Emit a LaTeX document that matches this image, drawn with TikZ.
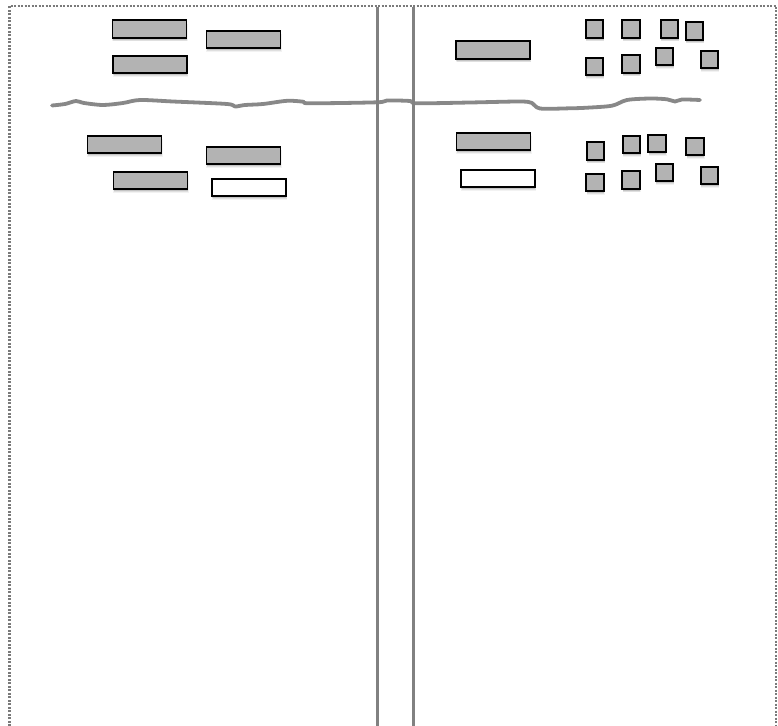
\documentclass[tikz,border=0pt]{standalone}
\usetikzlibrary{shadows}
\definecolor{boxgray}{HTML}{B3B3B3}
\definecolor{linegray}{HTML}{888888}
\definecolor{framegray}{HTML}{7A7A7A}
\tikzset{
  softshadow/.style={
    general shadow={shadow xshift=0.6pt, shadow yshift=-3.5pt, shadow scale=1.02, fill=black, opacity=0.05},
    general shadow={shadow xshift=0.6pt, shadow yshift=-2.8pt, fill=black, opacity=0.08},
    general shadow={shadow xshift=0.4pt, shadow yshift=-2pt, fill=black, opacity=0.12}},
  card/.style={draw=black, line width=1.8pt, fill=boxgray, inner sep=0pt, outer sep=0pt, softshadow},
  bar/.style={card, minimum width=74pt, minimum height=17.5pt},
  whitebar/.style={bar, fill=white},
  sq/.style={card, minimum width=17.5pt, minimum height=17.5pt},
  frameline/.style={draw=framegray, line width=2.2pt, dash pattern=on 2pt off 1.5pt},
  divider/.style={draw=linegray!95!black, line width=2.7pt},
  wave/.style={draw=linegray, line width=3.8pt, line cap=round, line join=round}
}
\begin{document}
\begin{tikzpicture}[x=1pt,y=-1pt]
\useasboundingbox (0,0) rectangle (778,725);
% frame
\coordinate (fbl) at (9.5,726);
\coordinate (ftl) at (9.5,6);
\coordinate (ftr) at (776,6);
\coordinate (fbr) at (776,726);
\draw[frameline] (fbl) -- (ftl) -- (ftr) -- (fbr);
% wavy line
\draw[wave] plot[smooth, tension=0.5] coordinates {
 (52,105.5) (65,104) (76,101) (84,103) (103,105) (123,103) (140,100) (173,101.5)
 (227,104) (235,106.5) (245,105) (263,104) (287,100.8) (303,101.7) (310,103.3)
 (377,102.3) (387,100.5) (410,101) (417,103.3) (470,102.5) (520,101.5) (532,103)
 (540,108.5) (570,108.3) (587,107.7) (612,105.7) (627,100) (650,98.5) (667,99.3)
 (675,101.5) (682,99.5) (700,100)};
% dividers
\coordinate (d1t) at (377.5,7);
\coordinate (d1b) at (377.5,726);
\coordinate (d2t) at (413.5,7);
\coordinate (d2b) at (413.5,726);
\draw[divider] (d1t) -- (d1b);
\draw[divider] (d2t) -- (d2b);
% left top bars
\node[bar] (r1) at (149.5,29) {};
\node[bar] (r2) at (243.5,39.5) {};
\node[bar] (r3) at (150,64.5) {};
% left bottom bars
\node[bar] (r4) at (124.5,144.5) {};
\node[bar] (r5) at (243.5,155.5) {};
\node[bar] (r6) at (150.5,180.5) {};
\node[whitebar] (r7) at (249,187.5) {};
% right bars
\node[bar] (r8) at (493,50) {};
\node[bar] (r9) at (493.5,141.5) {};
\node[whitebar] (r10) at (498,178.5) {};
% top squares
\node[sq] (s1) at (594.5,29) {};
\node[sq] (s2) at (631,29) {};
\node[sq] (s3) at (669.5,29) {};
\node[sq] (s4) at (694.5,31) {};
\node[sq] (s5) at (594.5,66.5) {};
\node[sq] (s6) at (631,64) {};
\node[sq] (s7) at (664.5,56.5) {};
\node[sq] (s8) at (709.5,59.5) {};
% bottom squares
\node[sq] (t1) at (595.5,151) {};
\node[sq] (t2) at (631.5,144.5) {};
\node[sq] (t3) at (657,143.5) {};
\node[sq] (t4) at (695,146.5) {};
\node[sq] (t5) at (595,182.5) {};
\node[sq] (t6) at (631,180) {};
\node[sq] (t7) at (664.5,172.5) {};
\node[sq] (t8) at (709.5,175.5) {};
\end{tikzpicture}
\end{document}
